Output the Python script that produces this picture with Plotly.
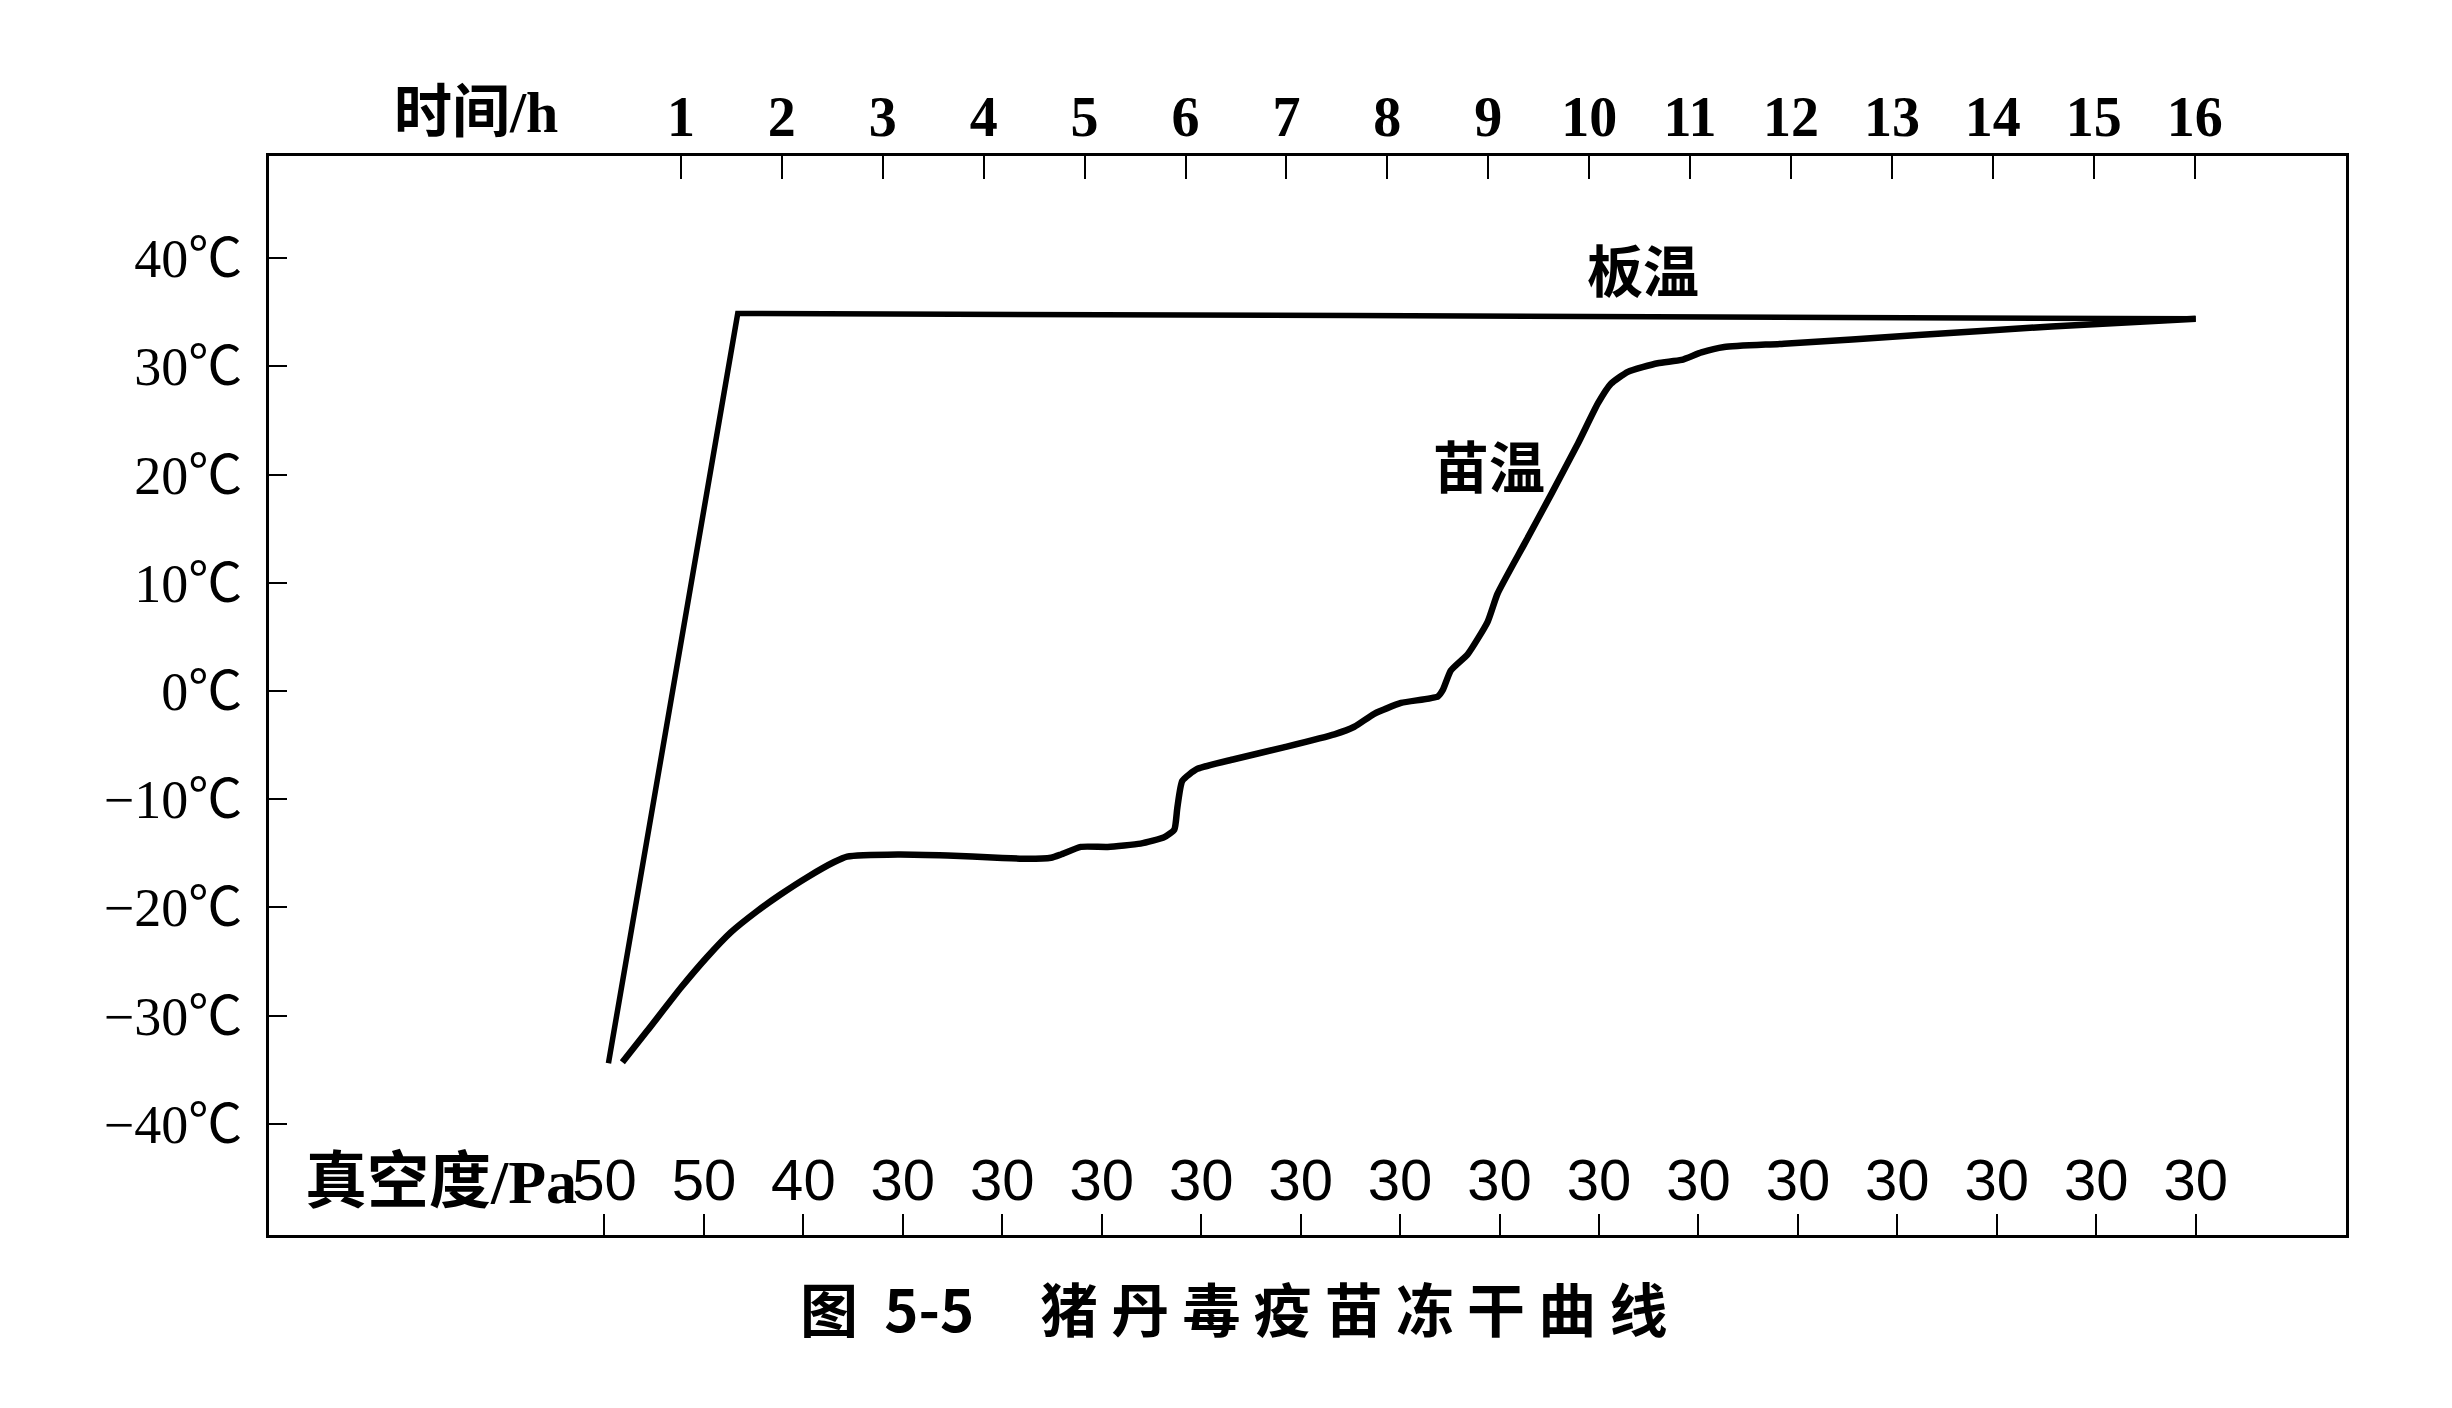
import plotly.graph_objects as go

# ---- axis tick data ----
time_top_ticks = [1, 2, 3, 4, 5, 6, 7, 8, 9, 10, 11, 12, 13, 14, 15, 16]
time_top_labels = ["1", "2", "3", "4", "5", "6", "7", "8", "9", "10",
                   "11", "12", "13", "14", "15", "16"]
vacuum_ticks = [0, 1, 2, 3, 4, 5, 6, 7, 8, 9, 10, 11, 12, 13, 14, 15, 16]
vacuum_labels = ["50", "50", "40", "30", "30", "30", "30", "30", "30",
                 "30", "30", "30", "30", "30", "30", "30", "30"]
temp_ticks = [40, 30, 20, 10, 0, -10, -20, -30, -40]
temp_labels = ["40℃", "30℃", "20℃", "10℃", "0℃", "−10℃", "−20℃", "−30℃", "−40℃"]

# ---- series (hours, °C) ----
plate_time = [0.04, 1.34, 7.51, 13.14, 16.0]
plate_temp = [-34.4, 34.9, 34.7, 34.5, 34.4]

product_time = [0.18, 0.43, 0.77, 1.03, 1.27, 1.54, 1.77, 2.04, 2.31, 2.44,
                2.95, 3.45, 3.95, 4.25, 4.49, 4.59, 4.79, 5.06, 5.39, 5.63,
                5.73, 5.76, 5.81, 5.96, 6.33, 6.83, 7.34, 7.54, 7.74, 8.01,
                8.38, 8.43, 8.51, 8.68, 8.88, 8.98, 9.25, 9.52, 9.79, 9.99,
                10.12, 10.29, 10.59, 10.83, 11.03, 11.26, 11.86, 13.21, 14.55, 16.0]
product_temp = [-34.3, -31.4, -27.4, -24.6, -22.3, -20.3, -18.8, -17.2, -15.8, -15.3,
                -15.1, -15.2, -15.4, -15.5, -15.4, -15.1, -14.4, -14.4, -14.1, -13.5,
                -12.8, -10.8, -8.3, -7.2, -6.3, -5.2, -4.0, -3.3, -2.1, -1.1,
                -0.5, 0.1, 1.9, 3.4, 6.4, 9.0, 13.6, 18.2, 22.9, 26.6,
                28.4, 29.5, 30.3, 30.6, 31.3, 31.8, 32.1, 32.9, 33.7, 34.4]

SERIF = "Liberation Serif, Noto Sans CJK SC, serif"
SANS = "Liberation Sans, Noto Sans CJK SC, sans-serif"
CJK = "Noto Sans CJK SC, sans-serif"

fig = go.Figure()
fig.add_trace(go.Scatter(x=plate_time, y=plate_temp, mode="lines",
                         line=dict(color="black", width=5.5),
                         showlegend=False, hoverinfo="skip"))
fig.add_trace(go.Scatter(x=product_time, y=product_temp, mode="lines",
                         line=dict(color="black", width=6.5, shape="spline",
                                   smoothing=0.5),
                         showlegend=False, hoverinfo="skip"))
# invisible trace so that the top (time) axis is drawn
fig.add_trace(go.Scatter(x=time_top_ticks, y=[None] * len(time_top_ticks),
                         xaxis="x2", mode="lines", showlegend=False,
                         hoverinfo="skip"))

fig.update_layout(
    width=2436, height=1392,
    margin=dict(l=261, r=98, t=148, b=165),
    paper_bgcolor="white", plot_bgcolor="white",
    showlegend=False,
    xaxis=dict(
        range=[-3.373, 17.511], tickmode="array",
        tickvals=vacuum_ticks, ticktext=vacuum_labels,
        ticks="inside", ticklen=21, tickwidth=2, tickcolor="black",
        ticklabelposition="inside", ticklabelstandoff=11,
        tickfont=dict(family=SANS, size=58, color="black"),
        showline=True, linewidth=3, linecolor="black",
        showgrid=False, zeroline=False, fixedrange=True,
    ),
    xaxis2=dict(
        overlaying="x", side="top",
        range=[-3.082, 17.50], tickmode="array",
        tickvals=time_top_ticks, ticktext=time_top_labels,
        ticks="inside", ticklen=23, tickwidth=2, tickcolor="black",
        ticklabelstandoff=-5,
        tickfont=dict(family=SERIF, size=56, color="black", weight="bold"),
        showline=True, linewidth=3, linecolor="black",
        showgrid=False, zeroline=False, fixedrange=True,
    ),
    yaxis=dict(
        range=[-50.27, 49.45], tickmode="array",
        tickvals=temp_ticks, ticktext=temp_labels,
        ticks="inside", ticklen=18, tickwidth=2, tickcolor="black",
        ticklabelstandoff=13,
        tickfont=dict(family=SERIF, size=54, color="black"),
        showline=True, mirror=True, linewidth=3, linecolor="black",
        showgrid=False, zeroline=False, fixedrange=True,
    ),
)

fig.add_annotation(text="板温", x=10.44, y=39.1, xref="x", yref="y",
                   xanchor="center", yanchor="middle", showarrow=False,
                   font=dict(family=CJK, size=56, color="black", weight="bold"))
fig.add_annotation(text="苗温", x=8.89, y=21.0, xref="x", yref="y",
                   xanchor="center", yanchor="middle", showarrow=False,
                   font=dict(family=CJK, size=56, color="black", weight="bold"))
fig.add_annotation(text="时间/h", x=-1.03, y=1.040, xref="x2", yref="paper",
                   xanchor="center", yanchor="middle", showarrow=False,
                   font=dict(family=SERIF, size=58, color="black", weight="bold"))
fig.add_annotation(text="真空度/Pa", x=-0.26, y=-45.4, xref="x", yref="y",
                   xanchor="right", yanchor="middle", showarrow=False,
                   font=dict(family=SERIF, size=62, color="black", weight="bold"))
fig.add_annotation(
    text="图\u00a0\u00a05-5\u00a0\u00a0\u00a0\u00a0\u00a0猪\u00a0丹\u00a0毒\u00a0疫\u00a0苗\u00a0冻\u00a0干\u00a0曲\u00a0线",
    x=0.4646, y=-0.0663, xref="paper", yref="paper",
    xanchor="center", yanchor="middle", showarrow=False,
    font=dict(family=CJK, size=58, color="black", weight="bold"))

fig.write_html("out.html")
